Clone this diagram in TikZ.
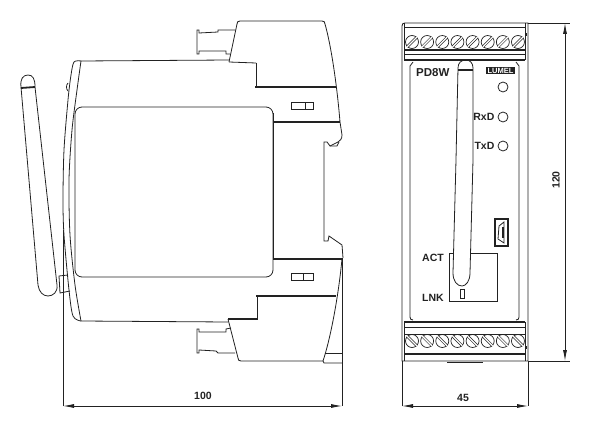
\documentclass[tikz,border=0pt]{standalone}
\usepackage{fontspec}
\setmainfont{Liberation Sans}
\usetikzlibrary{arrows.meta,positioning}

\definecolor{ink}{HTML}{222222}

\tikzset{
  line/.style={draw=ink,line width=.8pt},
  thick line/.style={draw=ink,line width=1.8pt},
  dim/.style={draw=ink,line width=.8pt,{Latex[length=11pt,width=4pt]}-{Latex[length=11pt,width=4pt]}},
  lbl/.style={font=\bfseries\fontsize{10.5}{10.5}\selectfont,text=ink,inner sep=0pt},
  led/.style={circle,draw=ink,line width=.8pt,minimum size=10pt,inner sep=0pt},
  screw/.style={circle,draw=ink,line width=.7pt,minimum size=13pt,inner sep=0pt},
  hatch/.style={draw=ink,double,double distance=1.3pt,line width=.6pt}
}

\begin{document}
\begin{tikzpicture}[x=1pt,y=-1pt]
  \useasboundingbox (0,0) rectangle (600,436);

  % side view: antenna
  \draw[line] (21,87) .. controls (20,79) and (23,75) .. (28,75) .. controls (33,75) and (35,79) .. (35,87)
    -- (57,285) .. controls (58,292) and (53,296) .. (48,296) .. controls (43,296) and (39,292) .. (38,285) -- cycle;
  \draw[thick line] (21,88) -- (35,87);
  \draw[line] (70,291) -- (60,293) -- (59,276) -- (68,275);

  % side view: back of the housing
  \draw[line] (81,61) -- (229,60);
  \draw[line] plot[smooth] coordinates {(81,61) (77,90) (72,130) (69,180) (70,235) (75,285) (81,321)};
  \draw[line] plot[smooth] coordinates {(81,61) (74,62) (71,75) (68,100) (64,150) (63,200) (64,235) (69,290) (73,316) (81,321)};
  \draw[line] (68,83) .. controls (66,85) and (66,89) .. (68,91);
  \draw[line] (81,321) -- (228,322);

  % side view: panel
  \draw[line,rounded corners=7pt] (75,277) -- (75,107) -- (273,107) -- (273,277) -- cycle;
  \draw[line] (273,113) -- (273,258);

  % side view: upper block
  \draw[line] (229,62) -- (237,24) .. controls (237,22) and (238,21) .. (240,21) -- (322,21)
    .. controls (324,21) and (325,22) .. (325,24) .. controls (331,45) and (337,85) .. (340,122)
    -- (342,135) .. controls (342,139) and (340,141) .. (338,142) -- (330,146) -- (327,142) -- (324,142) -- (324,241)
    -- (328,241) -- (329,236) -- (342,245) -- (343,258);
  \draw[line] (229,62) -- (256,63);
  \draw[line] (256,63) -- (256,87);
  \draw[thick line] (255,87) -- (336,87);
  \draw[thick line] (273,122) -- (340,122);
  \draw[line] (330,146) -- (337,146) -- (339,142);
  \draw[line] (291,102) rectangle (313,109) (305,102) -- (305,109);

  % side view: top connector
  \draw[line] (235,30) -- (218,30) -- (218,32) -- (199,33) -- (199,30) -- (197,30) -- (197,54) -- (199,54) -- (199,51) -- (226,51) -- (226,54) -- (230,54);

  % side view: lower block
  \draw[thick line] (273,259) -- (343,259);
  \draw[thick line] (256,296) -- (336,296);
  \draw[line] (257,296) -- (257,319);
  \draw[thick line] (228,319) -- (258,319);
  \draw[line] (228,319) -- (238,358) .. controls (238,360) and (239,361) .. (241,361) -- (323,361)
    .. controls (330,340) and (338,300) .. (342,259);
  \draw[line] (291,273) rectangle (313,280) (303,273) -- (303,280);
  \draw[line] (323,361) -- (324,363) -- (342,363);
  \draw[line] (325,353) -- (332,353);
  \draw[thick line] (332,353.5) -- (342,353.5);

  % side view: bottom connector
  \draw[line] (231,328) -- (226,329) -- (226,332) -- (199,332) -- (199,329) -- (197,329) -- (197,353) -- (199,353) -- (199,350) -- (216,351) -- (218,353) -- (235,353);

  % front view: housing
  \draw[line] (402,26) .. controls (402,24) and (403,23) .. (405,23) -- (528,23) -- (528,361) -- (402,361) -- cycle;
  \draw[line] (404,23) -- (404,60) (525,23) -- (525,60);
  \draw[line] (404,27) -- (525,27);
  \draw[thick line] (404,50) -- (525,50);
  \draw[line] (404,54) -- (525,54);
  \draw[thick line] (404,60) -- (525,60);
  \draw[thick line] (526.5,33) -- (526.5,36);
  \draw[line] (410,317) .. controls (410,319) and (411,320) .. (413,320);
  \draw[line] (413,62) -- (410,66) -- (410,317);
  \draw[line] (516,62) -- (519,66) -- (519,317) .. controls (519,319) and (518,320) .. (516,320);

  \draw[thick line] (404,322) -- (525,322);
  \draw[line] (404,322) -- (404,361) (525,322) -- (525,361);
  \draw[line] (404,327) -- (525,327);
  \draw[line] (404,334) -- (525,334);
  \draw[draw=ink,line width=2.4pt] (404,354) -- (525,354);
  \draw[thick line] (526.5,346) -- (526.5,349);
  \draw[thick line] (447,362.5) -- (483,362.5);

  % front view: screw terminals
  \foreach \n in {0,...,7} {
    \pgfmathsetmacro{\tx}{412+15.14*\n}
    \node[screw] (topscrew\n) at (\tx,42) {};
    \draw[hatch] (topscrew\n.south west) -- (topscrew\n.north east);
    \node[screw] (botscrew\n) at (\tx,341) {};
    \draw[hatch] (botscrew\n.north west) -- (botscrew\n.south east);
  }

  % front view: labels and leds
  \node[lbl,font=\bfseries\fontsize{11.5}{11.5}\selectfont,anchor=west] (pdw) at (416,73) {PD8W};
  \node[fill=ink,text=white,font=\bfseries\fontsize{7.5}{7.5}\selectfont,minimum width=29pt,minimum height=7pt,inner sep=0pt] (lumel) at (500.5,70.5) {LUMEL};
  \node[led] (ledpw) at (503,87) {};
  \node[led] (ledrx) at (503,117) {};
  \node[led] (ledtx) at (503,146) {};
  \node[lbl,left=3pt of ledrx] (rxd) {RxD};
  \node[lbl,left=3pt of ledtx] (txd) {TxD};

  % front view: radio window
  \draw[line] (453,253) -- (449,253) -- (449,301) -- (497,301) -- (497,253) -- (470,253);
  \draw[line] (460,289) rectangle (464,298);
  \node[lbl,anchor=west] (act) at (422,258) {ACT};
  \node[lbl,anchor=west] (lnk) at (422,298) {LNK};

  % front view: antenna
  \draw[line] (458,68) .. controls (458,63) and (461,60) .. (466,60) .. controls (470,60) and (473,63) .. (473,68)
    -- (473,160) -- (470,273) .. controls (470,281) and (466,286) .. (462,286) .. controls (457,286) and (453,281) .. (453,273)
    -- (456,160) -- cycle;
  \draw[thick line] (458,70) -- (473,70);

  % front view: usb socket
  \draw[draw=ink,line width=1.1pt] (495,219) rectangle (508,246);
  \draw[line] (504,222) -- (499,226) -- (498,239) -- (504,243) -- cycle;
  \draw[thick line] (503,227) -- (503,238);

  % dimensions
  \coordinate (dimsideA) at (63,406);
  \coordinate (dimsideB) at (342,406);
  \coordinate (dimfrontA) at (402,406);
  \coordinate (dimfrontB) at (528,406);
  \coordinate (dimtallA) at (565,23);
  \coordinate (dimtallB) at (565,361);
  \coordinate (sideback) at (63,230);
  \coordinate (siderail) at (342,258);
  \coordinate (frontleft) at (402,361);
  \coordinate (frontright) at (528,361);
  \coordinate (fronttop) at (528,23);
  \coordinate (tallstop) at (570,23);
  \coordinate (tallsbot) at (570,361);
  \draw[line] (sideback) -- (dimsideA);
  \draw[line] (siderail) -- (dimsideB);
  \draw[line] (frontleft) -- (dimfrontA);
  \draw[line] (frontright) -- (dimfrontB);
  \draw[line] (fronttop) -- (tallstop);
  \draw[line] (frontright) -- (tallsbot);
  \draw[dim] (dimsideA) -- (dimsideB);
  \draw[dim] (dimfrontA) -- (dimfrontB);
  \draw[dim] (dimtallA) -- (dimtallB);
  \node[lbl] (lenside) at (203,396) {100};
  \node[lbl] (lenfront) at (463,398) {45};
  \node[lbl,rotate=90] (lentall) at (556,180) {120};
\end{tikzpicture}
\end{document}
